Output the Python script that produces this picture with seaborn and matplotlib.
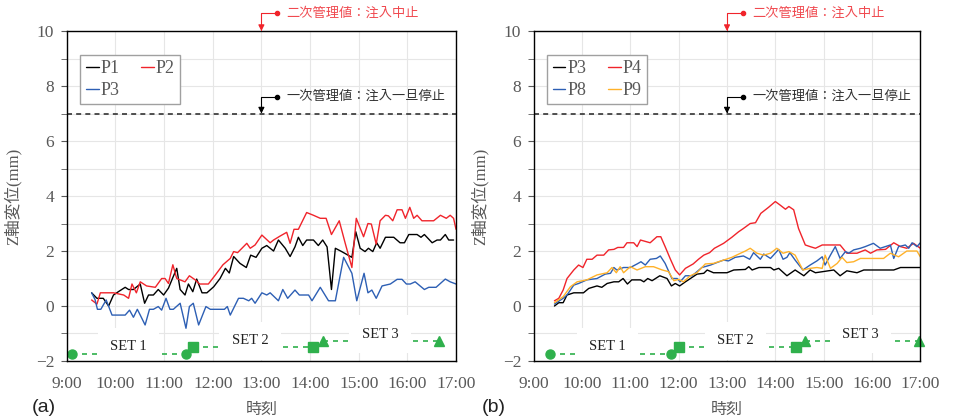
import numpy as np
import pandas as pd
import matplotlib
matplotlib.use('Agg')
import matplotlib.pyplot as plt
import seaborn as sns

# (a) 時刻[h] と Z軸変位[mm]
t_p1 = [9.51, 9.62, 9.75, 9.86, 9.96, 10.06, 10.20, 10.27, 10.37, 10.51, 10.60, 10.68, 10.78, 10.88,
        10.99, 11.09, 11.16, 11.26, 11.33, 11.43, 11.50, 11.59, 11.67, 11.78, 11.88, 12.02, 12.15, 12.26,
        12.34, 12.43, 12.56, 12.69, 12.78, 12.89, 13.01, 13.11, 13.25, 13.35, 13.49, 13.59, 13.69, 13.76,
        13.85, 13.93, 14.07, 14.17, 14.26, 14.35, 14.44, 14.52, 14.65, 14.83, 14.86, 14.94, 15.03, 15.13,
        15.20, 15.29, 15.37, 15.44, 15.55, 15.72, 15.85, 15.94, 16.03, 16.20, 16.28, 16.35, 16.51, 16.61,
        16.68, 16.78, 16.85, 16.95]
z_p1 = [0.48, 0.28, 0.28, 0.0, 0.4, 0.52, 0.68, 0.6, 0.6, 0.8, 0.1, 0.4, 0.4, 0.6,
        0.4, 0.65, 0.95, 1.37, 0.6, 0.4, 0.8, 0.52, 0.98, 0.48, 0.48, 0.7, 1.0, 1.37,
        1.2, 1.8, 1.55, 1.4, 1.85, 1.77, 2.1, 2.2, 2.0, 2.4, 2.1, 1.8, 2.15, 2.5,
        2.2, 2.4, 2.4, 2.2, 2.4, 2.15, 0.6, 2.1, 1.98, 1.8, 1.77, 2.7, 2.1, 1.98,
        2.1, 1.98, 2.3, 2.1, 2.5, 2.5, 2.3, 2.3, 2.6, 2.6, 2.5, 2.6, 2.3, 2.4,
        2.4, 2.6, 2.4, 2.4]
t_p2 = [9.51, 9.62, 9.69, 9.96, 10.17, 10.27, 10.34, 10.43, 10.51, 10.64, 10.82, 10.95, 11.02, 11.09,
        11.18, 11.26, 11.43, 11.52, 11.64, 11.73, 11.91, 12.05, 12.21, 12.36, 12.43, 12.51, 12.60, 12.70,
        12.77, 12.87, 13.01, 13.18, 13.25, 13.39, 13.52, 13.59, 13.67, 13.76, 13.93, 14.07, 14.21, 14.33,
        14.44, 14.60, 14.72, 14.86, 14.95, 15.10, 15.19, 15.26, 15.36, 15.44, 15.55, 15.61, 15.70, 15.79,
        15.89, 15.96, 16.05, 16.13, 16.20, 16.30, 16.54, 16.68, 16.80, 16.88, 16.95, 17.0]
z_p2 = [0.22, 0.07, 0.48, 0.48, 0.4, 0.28, 0.8, 0.48, 0.88, 0.73, 0.68, 1.0, 1.0, 0.82,
        1.5, 1.0, 0.88, 1.1, 0.95, 0.8, 0.8, 1.12, 1.5, 1.73, 1.98, 1.94, 2.1, 2.28,
        2.1, 2.22, 2.58, 2.3, 2.4, 2.55, 2.68, 2.28, 2.79, 2.79, 3.4, 3.3, 3.19, 3.19,
        2.6, 3.1, 2.3, 1.4, 3.19, 2.52, 3.0, 2.98, 2.25, 3.1, 3.3, 3.28, 3.1, 3.5,
        3.5, 3.19, 3.59, 3.19, 3.3, 3.1, 3.1, 3.3, 3.19, 3.3, 3.19, 2.79]
t_p3 = [9.51, 9.58, 9.63, 9.70, 9.81, 9.93, 10.20, 10.29, 10.37, 10.45, 10.51, 10.61, 10.70, 10.78,
        10.88, 10.95, 11.04, 11.12, 11.19, 11.33, 11.45, 11.52, 11.60, 11.71, 11.86, 11.95, 12.24, 12.30,
        12.36, 12.53, 12.63, 12.74, 12.80, 12.87, 13.01, 13.11, 13.18, 13.35, 13.44, 13.54, 13.69, 13.78,
        13.97, 14.04, 14.21, 14.38, 14.52, 14.69, 14.86, 14.96, 15.11, 15.19, 15.27, 15.36, 15.48, 15.65,
        15.79, 15.89, 15.98, 16.06, 16.16, 16.35, 16.44, 16.59, 16.78, 16.88, 17.0]
z_p3 = [0.48, 0.24, -0.12, -0.12, 0.22, -0.33, -0.33, -0.15, -0.41, -0.12, -0.33, -0.69, -0.12, -0.12,
        -0.02, -0.15, 0.28, -0.12, -0.12, 0.1, -0.81, -0.02, 0.1, -0.69, -0.02, -0.12, -0.12, -0.02,
        -0.33, 0.28, 0.28, 0.19, 0.28, 0.1, 0.48, 0.4, 0.48, 0.19, 0.6, 0.28, 0.58, 0.4,
        0.4, 0.19, 0.68, 0.19, 0.19, 1.77, 1.19, 0.19, 1.19, 0.48, 0.58, 0.28, 0.73, 0.8,
        0.97, 0.97, 0.8, 0.8, 0.88, 0.6, 0.68, 0.68, 0.98, 0.88, 0.8]

# (b)
t_q3 = [9.43, 9.52, 9.61, 9.69, 9.83, 10.03, 10.14, 10.31, 10.41, 10.52, 10.66, 10.76, 10.85, 10.94,
        11.03, 11.21, 11.28, 11.36, 11.45, 11.61, 11.76, 11.85, 11.93, 12.02, 12.14, 12.38, 12.52, 12.59,
        12.72, 13.00, 13.14, 13.38, 13.45, 13.52, 13.66, 13.90, 13.97, 14.07, 14.24, 14.41, 14.59, 14.72,
        14.83, 15.21, 15.34, 15.48, 15.69, 15.83, 16.45, 16.59, 17.00]
z_q3 = [0.0, 0.12, 0.12, 0.4, 0.48, 0.48, 0.64, 0.73, 0.68, 0.82, 0.88, 0.88, 1.0, 0.8,
        0.95, 0.95, 0.88, 1.0, 0.92, 1.1, 1.0, 0.73, 0.82, 0.73, 0.88, 1.16, 1.19, 1.31,
        1.21, 1.21, 1.31, 1.33, 1.43, 1.31, 1.4, 1.4, 1.31, 1.37, 1.1, 1.31, 1.1, 1.31,
        1.21, 1.31, 1.1, 1.28, 1.21, 1.31, 1.31, 1.4, 1.4]
t_q4 = [9.43, 9.52, 9.61, 9.69, 9.83, 9.93, 10.02, 10.10, 10.21, 10.31, 10.45, 10.55, 10.66, 10.74,
        10.86, 10.93, 11.07, 11.14, 11.21, 11.41, 11.55, 11.63, 11.72, 11.83, 11.93, 12.02, 12.14, 12.30,
        12.41, 12.52, 12.64, 12.74, 12.93, 13.10, 13.24, 13.34, 13.48, 13.59, 13.70, 13.86, 14.00, 14.10,
        14.21, 14.28, 14.38, 14.48, 14.62, 14.72, 14.83, 14.97, 15.34, 15.48, 15.69, 15.86, 15.97, 16.10,
        16.28, 16.45, 16.59, 16.72, 16.86, 17.00]
z_q4 = [0.19, 0.28, 0.58, 1.0, 1.31, 1.49, 1.4, 1.7, 1.7, 1.85, 1.85, 2.04, 2.06, 2.13,
        2.13, 2.3, 2.3, 2.16, 2.4, 2.3, 2.52, 2.52, 2.16, 1.7, 1.31, 1.13, 1.37, 1.53,
        1.7, 1.85, 1.94, 2.1, 2.28, 2.5, 2.7, 2.82, 3.0, 3.03, 3.37, 3.59, 3.8, 3.67,
        3.52, 3.62, 3.5, 2.82, 2.22, 2.16, 2.1, 2.22, 2.22, 1.92, 1.92, 2.04, 1.92, 2.04,
        2.06, 2.3, 2.16, 2.1, 2.28, 2.1]
t_q8 = [9.43, 9.61, 9.69, 9.83, 9.93, 10.10, 10.31, 10.48, 10.59, 10.66, 10.72, 10.86, 11.00, 11.14,
        11.22, 11.31, 11.41, 11.54, 11.62, 11.72, 11.86, 11.97, 12.03, 12.14, 12.28, 12.38, 12.48, 12.66,
        12.79, 12.93, 13.03, 13.17, 13.34, 13.47, 13.55, 13.69, 13.76, 13.90, 14.07, 14.16, 14.24, 14.30,
        14.41, 14.57, 14.72, 14.86, 14.97, 15.03, 15.14, 15.24, 15.34, 15.45, 15.52, 15.62, 15.76, 15.86,
        16.03, 16.17, 16.38, 16.45, 16.55, 16.69, 16.76, 16.83, 16.93, 17.00]
z_q8 = [0.07, 0.28, 0.4, 0.76, 0.82, 0.95, 1.0, 1.16, 1.19, 1.4, 1.31, 1.4, 1.4, 1.53,
        1.61, 1.49, 1.7, 1.73, 1.82, 1.55, 1.0, 1.0, 0.88, 1.1, 1.1, 1.25, 1.4, 1.49,
        1.58, 1.67, 1.64, 1.77, 1.82, 1.7, 1.94, 1.7, 1.89, 1.73, 2.06, 1.7, 1.77, 1.94,
        1.67, 1.31, 1.49, 1.64, 1.79, 1.49, 1.85, 2.16, 1.73, 1.98, 1.92, 2.04, 2.1, 2.16,
        2.28, 2.1, 2.22, 1.73, 2.16, 2.22, 2.1, 2.3, 2.16, 2.3]
t_q9 = [9.43, 9.61, 9.76, 9.90, 10.10, 10.31, 10.52, 10.62, 10.71, 10.79, 10.86, 11.00, 11.14, 11.31,
        11.48, 11.66, 11.79, 11.90, 12.00, 12.10, 12.24, 12.38, 12.55, 12.72, 12.93, 13.10, 13.28, 13.38,
        13.48, 13.62, 13.76, 13.90, 14.03, 14.16, 14.28, 14.41, 14.57, 14.72, 14.86, 14.97, 15.03, 15.14,
        15.28, 15.38, 15.48, 15.62, 15.76, 16.24, 16.38, 16.55, 16.72, 16.93, 17.00]
z_q9 = [0.12, 0.34, 0.7, 0.88, 0.95, 1.13, 1.21, 1.4, 1.21, 1.43, 1.21, 1.43, 1.31, 1.43,
        1.43, 1.31, 1.25, 0.92, 0.97, 0.88, 1.1, 1.21, 1.53, 1.55, 1.67, 1.77, 1.92, 2.0,
        2.1, 1.92, 1.85, 1.92, 2.1, 1.92, 1.98, 1.85, 1.31, 1.37, 1.4, 1.37, 1.85, 1.37,
        1.55, 1.77, 1.58, 1.61, 1.73, 1.73, 1.92, 1.79, 2.0, 2.0, 1.79]

# 注入セット (開始, 終了, 水準)
set_names = ['SET 1', 'SET 2', 'SET 3']
set_markers = ['o', 's', '^']
set_level = [-1.75, -1.5, -1.27]
set_a_start = [9.10, 11.59, 14.26]
set_a_end = [11.45, 14.07, 16.66]
set_a_label = [10.27, 12.77, 15.44]
set_b_start = [9.33, 12.00, 14.62]
set_b_end = [11.85, 14.43, 16.97]
set_b_label = [10.53, 13.17, 15.76]
label_level = [-1.48, -1.27, -1.03]

hours = list(range(9, 18))
hour_labels = [f'{h}:00' for h in hours]

colors = {'P1': 'black', 'P2': '#f0242b', 'P3': '#2d5fb4',
          'Q3': 'black', 'P4': '#f0242b', 'P8': '#2d5fb4', 'P9': '#ffb22a'}
green = '#2fb04c'
gray = '#595959'
serif = ['Liberation Serif', 'Noto Sans CJK JP']
cjk = ['Noto Sans CJK JP', 'DejaVu Sans']

sns.set_style('white')
plt.rcParams['font.family'] = serif


def long_df(series):
    frames = []
    for name, t, z in series:
        frames.append(pd.DataFrame({'t': t, 'z': z, 'pt': name}))
    return pd.concat(frames, ignore_index=True)


def palette_name(k):
    return 'P3' if k == 'Q3' else k


def draw_panel(ax, df, palette, order, starts, ends, label_x):
    sns.lineplot(data=df, x='t', y='z', hue='pt', palette=palette, estimator=None,
                 linewidth=1.0, ax=ax, zorder=2)
    ax.set_xlim(9, 17)
    ax.set_ylim(-2, 10)
    ax.set_xticks(hours)
    ax.set_xticklabels(hour_labels)
    ax.set_yticks(range(-2, 11, 2))
    ax.set_yticks(range(-1, 10, 2), minor=True)
    ax.grid(True, which='both', color='#e6e6e6', linewidth=0.8)
    for s in ax.spines.values():
        s.set_color('black')
        s.set_linewidth(1.0)
    ax.tick_params(axis='y', which='both', direction='out', length=4, color=gray,
                   labelsize=12.5, labelcolor=gray, pad=5, left=True)
    ax.tick_params(axis='x', length=0, labelsize=12.5, labelcolor=gray, pad=11)
    ax.set_xlabel('時刻', family=cjk, fontsize=11.5, color=gray, labelpad=6)
    ax.set_ylabel('Z軸変位(mm)', fontsize=12, color=gray, labelpad=10)

    # 一次管理値
    ax.axhline(7, color='#333333', linestyle='--', linewidth=1.2, dashes=(3, 2.5), zorder=2.3)
    ax.annotate('', xy=(13.0, 7.0), xytext=(13.33, 7.62),
                arrowprops=dict(arrowstyle='-|>', color='black', lw=0.8, shrinkA=0, shrinkB=0,
                                mutation_scale=9, connectionstyle='angle,angleA=0,angleB=90,rad=0'))
    ax.plot([13.33], [7.62], 'o', color='black', markersize=3, clip_on=False)
    ax.text(13.52, 7.62, '一次管理値：注入一旦停止', family=cjk, fontsize=9.5,
            color='#333333', va='center')
    # 二次管理値
    ax.annotate('', xy=(13.0, 10.0), xytext=(13.33, 10.65), annotation_clip=False,
                arrowprops=dict(arrowstyle='-|>', color='#f0242b', lw=0.8, shrinkA=0, shrinkB=0,
                                mutation_scale=9, connectionstyle='angle,angleA=0,angleB=90,rad=0'))
    ax.plot([13.33], [10.65], 'o', color='#f0242b', markersize=3, clip_on=False)
    ax.text(13.52, 10.65, '二次管理値：注入中止', family=cjk, fontsize=9.5,
            color='#f04a50', va='center', clip_on=False)

    # SET
    for i in range(3):
        ax.plot([starts[i], ends[i]], [set_level[i], set_level[i]], color=green,
                linestyle='--', dashes=(3, 3), linewidth=1.2, marker=set_markers[i],
                markersize=6.5, clip_on=False, zorder=2.2)
        ax.text(label_x[i], label_level[i], set_names[i], fontsize=10.5, ha='center', va='center',
                color='#222222', zorder=2.4,
                bbox=dict(boxstyle='square,pad=0.85', facecolor='white', edgecolor='none'))

    handles, labels = ax.get_legend_handles_labels()
    lut = dict(zip(labels, handles))
    ax.legend([lut[k] for k in order], [palette_name(k) for k in order], ncol=2,
              loc='upper left', bbox_to_anchor=(0.012, 0.955), fontsize=13,
              handlelength=0.7, handletextpad=0.1, columnspacing=1.2, labelspacing=0.25,
              borderpad=0.3, frameon=True, fancybox=False, edgecolor='#a0a0a0',
              framealpha=1, labelcolor=gray)


fig = plt.figure(figsize=(9.54, 4.2), dpi=100)
ax1 = fig.add_axes([0.070, 0.1405, 0.408, 0.7855])
ax2 = fig.add_axes([0.5594, 0.1405, 0.4053, 0.7855])

df_a = long_df([('P1', t_p1, z_p1), ('P2', t_p2, z_p2), ('P3', t_p3, z_p3)])
df_b = long_df([('Q3', t_q3, z_q3), ('P4', t_q4, z_q4), ('P8', t_q8, z_q8), ('P9', t_q9, z_q9)])

draw_panel(ax1, df_a, {k: colors[k] for k in ['P1', 'P2', 'P3']}, ['P1', 'P3', 'P2'],
           set_a_start, set_a_end, set_a_label)
draw_panel(ax2, df_b, {k: colors[k] for k in ['Q3', 'P4', 'P8', 'P9']}, ['Q3', 'P8', 'P4', 'P9'],
           set_b_start, set_b_end, set_b_label)

fig.text(0.033, 0.03, '(a)', family='Liberation Sans', fontsize=14, color='#222222', va='center')
fig.text(0.505, 0.03, '(b)', family='Liberation Sans', fontsize=14, color='#222222', va='center')

fig.savefig('out.png', dpi=100)
